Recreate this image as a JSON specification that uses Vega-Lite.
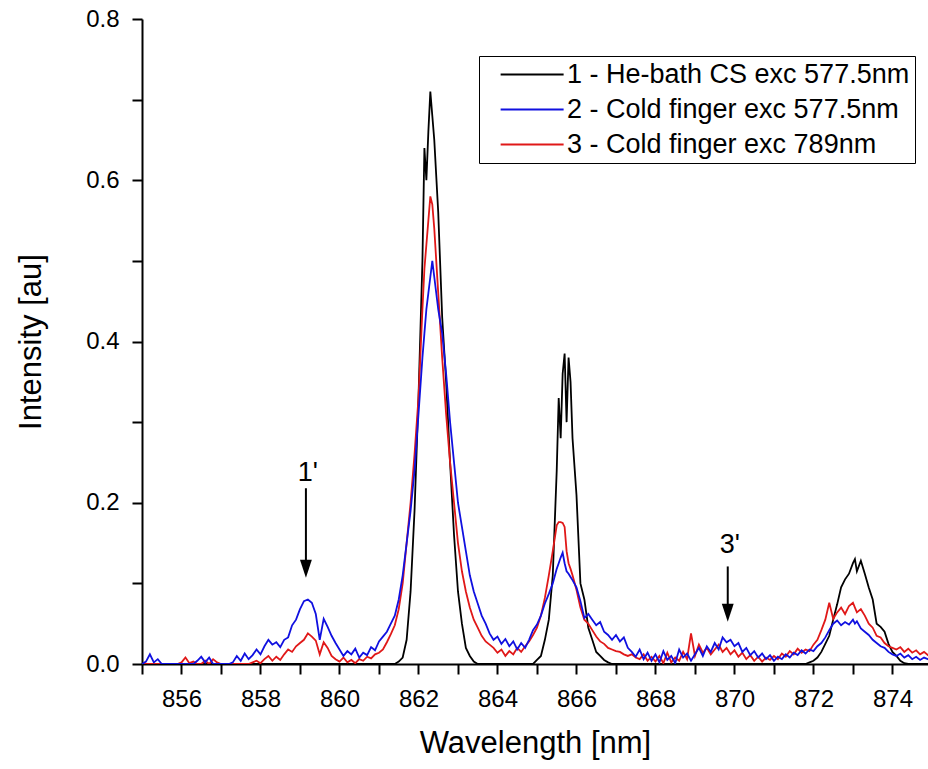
{
  "$schema": "https://vega.github.io/schema/vega-lite/v6.json",
  "width": 786,
  "height": 645,
  "autosize": {"type": "none"},
  "padding": {"left": 142, "top": 19, "right": 0, "bottom": 105},
  "background": "white",
  "config": {
    "view": {"stroke": null},
    "font": "Liberation Sans",
    "axis": {
      "domainColor": "black",
      "domainWidth": 2,
      "tickColor": "black",
      "tickWidth": 2,
      "labelColor": "black",
      "labelFont": "Liberation Sans",
      "labelFontSize": 24,
      "titleFont": "Liberation Sans",
      "titleFontSize": 31,
      "titleFontWeight": "normal",
      "titleColor": "black",
      "grid": false
    }
  },
  "datasets": {
    "spec": [
      {"x":855.0,"a":0,"b":0,"c":0},
      {"x":855.1,"a":0,"b":0.003,"c":0},
      {"x":855.2,"a":0,"b":0.012,"c":0},
      {"x":855.3,"a":0,"b":0.002,"c":0},
      {"x":855.4,"a":0,"b":0.006,"c":0},
      {"x":855.5,"a":0,"b":0,"c":0},
      {"x":855.6,"a":0,"b":0,"c":0},
      {"x":855.7,"a":0,"b":0,"c":0},
      {"x":855.8,"a":0,"b":0,"c":0},
      {"x":855.9,"a":0,"b":0,"c":0},
      {"x":856.0,"a":0,"b":0,"c":0.002},
      {"x":856.1,"a":0,"b":0,"c":0.008},
      {"x":856.2,"a":0,"b":0,"c":0.001},
      {"x":856.3,"a":0,"b":0,"c":0.003},
      {"x":856.4,"a":0,"b":0.004,"c":0},
      {"x":856.5,"a":0,"b":0.009,"c":0},
      {"x":856.6,"a":0,"b":0.002,"c":0.004},
      {"x":856.7,"a":0,"b":0.008,"c":0},
      {"x":856.8,"a":0,"b":0,"c":0.006},
      {"x":856.9,"a":0,"b":0,"c":0.002},
      {"x":857.0,"a":0,"b":0,"c":0},
      {"x":857.1,"a":0,"b":0,"c":0},
      {"x":857.2,"a":0,"b":0,"c":0},
      {"x":857.3,"a":0,"b":0.002,"c":0},
      {"x":857.4,"a":0,"b":0.010,"c":0},
      {"x":857.5,"a":0,"b":0.004,"c":0},
      {"x":857.6,"a":0,"b":0.013,"c":0},
      {"x":857.7,"a":0,"b":0.006,"c":0},
      {"x":857.8,"a":0,"b":0.011,"c":0.002},
      {"x":857.9,"a":0,"b":0.018,"c":0.004},
      {"x":858.0,"a":0,"b":0.012,"c":0.001},
      {"x":858.1,"a":0,"b":0.022,"c":0.006},
      {"x":858.2,"a":0,"b":0.030,"c":0.010},
      {"x":858.3,"a":0,"b":0.024,"c":0.004},
      {"x":858.4,"a":0,"b":0.027,"c":0.009},
      {"x":858.5,"a":0,"b":0.021,"c":0.005},
      {"x":858.6,"a":0,"b":0.030,"c":0.012},
      {"x":858.7,"a":0,"b":0.033,"c":0.018},
      {"x":858.8,"a":0,"b":0.048,"c":0.015},
      {"x":858.9,"a":0,"b":0.055,"c":0.022},
      {"x":859.0,"a":0,"b":0.068,"c":0.026},
      {"x":859.1,"a":0,"b":0.078,"c":0.030},
      {"x":859.2,"a":0,"b":0.080,"c":0.038},
      {"x":859.3,"a":0,"b":0.076,"c":0.034},
      {"x":859.4,"a":0,"b":0.062,"c":0.029},
      {"x":859.5,"a":0,"b":0.030,"c":0.012},
      {"x":859.6,"a":0,"b":0.056,"c":0.027},
      {"x":859.7,"a":0,"b":0.046,"c":0.020},
      {"x":859.8,"a":0,"b":0.035,"c":0.010},
      {"x":859.9,"a":0,"b":0.026,"c":0.006},
      {"x":860.0,"a":0,"b":0.018,"c":0.003},
      {"x":860.1,"a":0,"b":0.010,"c":0.008},
      {"x":860.2,"a":0,"b":0.016,"c":0.002},
      {"x":860.3,"a":0,"b":0.012,"c":0.005},
      {"x":860.4,"a":0,"b":0.019,"c":0.001},
      {"x":860.5,"a":0,"b":0.008,"c":0.006},
      {"x":860.6,"a":0,"b":0.014,"c":0.004},
      {"x":860.7,"a":0,"b":0.011,"c":0.009},
      {"x":860.8,"a":0,"b":0.021,"c":0.007},
      {"x":860.9,"a":0,"b":0.017,"c":0.012},
      {"x":861.0,"a":0,"b":0.028,"c":0.014},
      {"x":861.1,"a":0,"b":0.034,"c":0.018},
      {"x":861.2,"a":0,"b":0.040,"c":0.027},
      {"x":861.3,"a":0,"b":0.050,"c":0.037},
      {"x":861.4,"a":0,"b":0.060,"c":0.048},
      {"x":861.5,"a":0.003,"b":0.080,"c":0.068},
      {"x":861.6,"a":0.008,"b":0.110,"c":0.100},
      {"x":861.7,"a":0.030,"b":0.150,"c":0.150},
      {"x":861.8,"a":0.090,"b":0.190,"c":0.200},
      {"x":861.9,"a":0.190,"b":0.240,"c":0.260},
      {"x":862.0,"a":0.330,"b":0.310,"c":0.330},
      {"x":862.1,"a":0.500,"b":0.380,"c":0.440},
      {"x":862.15,"a":0.640,"b":0.410,"c":0.490},
      {"x":862.2,"a":0.600,"b":0.440,"c":0.520},
      {"x":862.25,"a":0.660,"b":0.460,"c":0.550},
      {"x":862.3,"a":0.710,"b":0.480,"c":0.580},
      {"x":862.35,"a":0.680,"b":0.500,"c":0.570},
      {"x":862.4,"a":0.650,"b":0.480,"c":0.540},
      {"x":862.5,"a":0.560,"b":0.440,"c":0.460},
      {"x":862.6,"a":0.430,"b":0.410,"c":0.380},
      {"x":862.7,"a":0.350,"b":0.360,"c":0.310},
      {"x":862.8,"a":0.250,"b":0.300,"c":0.250},
      {"x":862.9,"a":0.160,"b":0.250,"c":0.200},
      {"x":863.0,"a":0.090,"b":0.200,"c":0.150},
      {"x":863.1,"a":0.050,"b":0.170,"c":0.115},
      {"x":863.2,"a":0.020,"b":0.140,"c":0.090},
      {"x":863.3,"a":0.010,"b":0.110,"c":0.070},
      {"x":863.4,"a":0.003,"b":0.090,"c":0.055},
      {"x":863.5,"a":0,"b":0.075,"c":0.045},
      {"x":863.6,"a":0,"b":0.060,"c":0.035},
      {"x":863.7,"a":0,"b":0.050,"c":0.028},
      {"x":863.8,"a":0,"b":0.038,"c":0.024},
      {"x":863.9,"a":0,"b":0.030,"c":0.020},
      {"x":864.0,"a":0,"b":0.034,"c":0.014},
      {"x":864.1,"a":0,"b":0.025,"c":0.018},
      {"x":864.2,"a":0,"b":0.031,"c":0.010},
      {"x":864.3,"a":0,"b":0.022,"c":0.016},
      {"x":864.4,"a":0,"b":0.028,"c":0.012},
      {"x":864.5,"a":0,"b":0.018,"c":0.020},
      {"x":864.6,"a":0,"b":0.026,"c":0.015},
      {"x":864.7,"a":0,"b":0.020,"c":0.022},
      {"x":864.8,"a":0,"b":0.030,"c":0.028},
      {"x":864.9,"a":0,"b":0.042,"c":0.036},
      {"x":865.0,"a":0.005,"b":0.049,"c":0.045},
      {"x":865.1,"a":0.010,"b":0.060,"c":0.060},
      {"x":865.2,"a":0.030,"b":0.075,"c":0.082},
      {"x":865.3,"a":0.055,"b":0.087,"c":0.110},
      {"x":865.4,"a":0.110,"b":0.100,"c":0.140},
      {"x":865.5,"a":0.240,"b":0.118,"c":0.172},
      {"x":865.55,"a":0.330,"b":0.125,"c":0.176},
      {"x":865.6,"a":0.280,"b":0.132,"c":0.176},
      {"x":865.65,"a":0.360,"b":0.138,"c":0.175},
      {"x":865.7,"a":0.385,"b":0.125,"c":0.170},
      {"x":865.75,"a":0.300,"b":0.115,"c":0.140},
      {"x":865.8,"a":0.380,"b":0.112,"c":0.125},
      {"x":865.85,"a":0.350,"b":0.108,"c":0.118},
      {"x":865.9,"a":0.280,"b":0.104,"c":0.110},
      {"x":866.0,"a":0.210,"b":0.095,"c":0.092},
      {"x":866.1,"a":0.100,"b":0.078,"c":0.070},
      {"x":866.2,"a":0.080,"b":0.057,"c":0.055},
      {"x":866.3,"a":0.045,"b":0.062,"c":0.050},
      {"x":866.4,"a":0.030,"b":0.055,"c":0.042},
      {"x":866.5,"a":0.015,"b":0.048,"c":0.034},
      {"x":866.6,"a":0.010,"b":0.052,"c":0.028},
      {"x":866.7,"a":0.005,"b":0.040,"c":0.025},
      {"x":866.8,"a":0.002,"b":0.036,"c":0.020},
      {"x":866.9,"a":0,"b":0.030,"c":0.018},
      {"x":867.0,"a":0,"b":0.036,"c":0.016},
      {"x":867.1,"a":0,"b":0.028,"c":0.015},
      {"x":867.2,"a":0,"b":0.033,"c":0.012},
      {"x":867.3,"a":0,"b":0.020,"c":0.010},
      {"x":867.4,"a":0,"b":0.015,"c":0.012},
      {"x":867.5,"a":0,"b":0.009,"c":0.008},
      {"x":867.6,"a":0,"b":0.018,"c":0.006},
      {"x":867.7,"a":0,"b":0.006,"c":0.012},
      {"x":867.8,"a":0,"b":0.014,"c":0.004},
      {"x":867.9,"a":0,"b":0.004,"c":0.009},
      {"x":868.0,"a":0,"b":0.012,"c":0.003},
      {"x":868.1,"a":0,"b":0.002,"c":0.010},
      {"x":868.2,"a":0,"b":0.016,"c":0.001},
      {"x":868.3,"a":0,"b":0.005,"c":0.014},
      {"x":868.4,"a":0,"b":0.010,"c":0.002},
      {"x":868.5,"a":0,"b":0.001,"c":0.008},
      {"x":868.6,"a":0,"b":0.018,"c":0.004},
      {"x":868.7,"a":0,"b":0.008,"c":0.015},
      {"x":868.8,"a":0,"b":0.013,"c":0.006},
      {"x":868.9,"a":0,"b":0.004,"c":0.038},
      {"x":869.0,"a":0,"b":0.012,"c":0.010},
      {"x":869.1,"a":0,"b":0.020,"c":0.024},
      {"x":869.2,"a":0,"b":0.010,"c":0.014},
      {"x":869.3,"a":0,"b":0.022,"c":0.020},
      {"x":869.4,"a":0,"b":0.015,"c":0.012},
      {"x":869.5,"a":0,"b":0.026,"c":0.018},
      {"x":869.6,"a":0,"b":0.018,"c":0.024},
      {"x":869.7,"a":0,"b":0.033,"c":0.015},
      {"x":869.8,"a":0,"b":0.027,"c":0.020},
      {"x":869.9,"a":0,"b":0.030,"c":0.012},
      {"x":870.0,"a":0,"b":0.022,"c":0.017},
      {"x":870.1,"a":0,"b":0.026,"c":0.009},
      {"x":870.2,"a":0,"b":0.015,"c":0.014},
      {"x":870.3,"a":0,"b":0.020,"c":0.006},
      {"x":870.4,"a":0,"b":0.011,"c":0.011},
      {"x":870.5,"a":0,"b":0.016,"c":0.004},
      {"x":870.6,"a":0,"b":0.008,"c":0.009},
      {"x":870.7,"a":0,"b":0.013,"c":0.003},
      {"x":870.8,"a":0,"b":0.006,"c":0.008},
      {"x":870.9,"a":0,"b":0.011,"c":0.005},
      {"x":871.0,"a":0,"b":0.004,"c":0.010},
      {"x":871.1,"a":0,"b":0.009,"c":0.006},
      {"x":871.2,"a":0,"b":0.006,"c":0.013},
      {"x":871.3,"a":0,"b":0.012,"c":0.009},
      {"x":871.4,"a":0,"b":0.008,"c":0.016},
      {"x":871.5,"a":0,"b":0.014,"c":0.012},
      {"x":871.6,"a":0,"b":0.011,"c":0.019},
      {"x":871.7,"a":0,"b":0.017,"c":0.014},
      {"x":871.8,"a":0,"b":0.013,"c":0.018},
      {"x":871.9,"a":0.002,"b":0.018,"c":0.016},
      {"x":872.0,"a":0.004,"b":0.016,"c":0.024},
      {"x":872.1,"a":0.008,"b":0.022,"c":0.030},
      {"x":872.2,"a":0.015,"b":0.026,"c":0.042},
      {"x":872.3,"a":0.025,"b":0.033,"c":0.055},
      {"x":872.4,"a":0.035,"b":0.042,"c":0.076},
      {"x":872.5,"a":0.055,"b":0.050,"c":0.056},
      {"x":872.6,"a":0.074,"b":0.054,"c":0.064},
      {"x":872.7,"a":0.095,"b":0.048,"c":0.070},
      {"x":872.8,"a":0.105,"b":0.052,"c":0.062},
      {"x":872.9,"a":0.112,"b":0.049,"c":0.072},
      {"x":873.0,"a":0.125,"b":0.055,"c":0.076},
      {"x":873.05,"a":0.130,"b":0.050,"c":0.070},
      {"x":873.1,"a":0.115,"b":0.053,"c":0.064},
      {"x":873.2,"a":0.128,"b":0.044,"c":0.068},
      {"x":873.3,"a":0.112,"b":0.040,"c":0.060},
      {"x":873.4,"a":0.095,"b":0.036,"c":0.050},
      {"x":873.5,"a":0.080,"b":0.030,"c":0.045},
      {"x":873.6,"a":0.050,"b":0.026,"c":0.035},
      {"x":873.7,"a":0.046,"b":0.022,"c":0.033},
      {"x":873.8,"a":0.040,"b":0.020,"c":0.026},
      {"x":873.9,"a":0.025,"b":0.015,"c":0.022},
      {"x":874.0,"a":0.015,"b":0.012,"c":0.020},
      {"x":874.1,"a":0.010,"b":0.010,"c":0.018},
      {"x":874.2,"a":0.004,"b":0.013,"c":0.021},
      {"x":874.3,"a":0.001,"b":0.008,"c":0.015},
      {"x":874.4,"a":0,"b":0.011,"c":0.019},
      {"x":874.5,"a":0,"b":0.006,"c":0.014},
      {"x":874.6,"a":0,"b":0.009,"c":0.017},
      {"x":874.7,"a":0,"b":0.005,"c":0.012},
      {"x":874.8,"a":0,"b":0.008,"c":0.015},
      {"x":874.9,"a":0,"b":0.006,"c":0.011},
      {"x":875.0,"a":0,"b":0.004,"c":0.013}
    ],
    "arrows": [
      {"x": 859.15, "label": "1'", "ytext": 0.237, "ytop": 0.218, "ybot": 0.12, "tip": 0.107},
      {"x": 869.83, "label": "3'", "ytext": 0.148, "ytop": 0.121, "ybot": 0.065, "tip": 0.0525}
    ]
  },
  "layer": [
    {
      "data": {"name": "spec"},
      "transform": [{"fold": ["a", "b", "c"], "as": ["key", "value"]}, {"filter": "datum.key == 'a'"}],
      "mark": {"type": "line", "strokeWidth": 1.8, "clip": true},
      "encoding": {
        "x": {"field": "x", "type": "quantitative",
          "scale": {"domain": [855, 874.9], "nice": false, "zero": false},
          "axis": {
            "title": "Wavelength [nm]",
            "values": [855,856,857,858,859,860,861,862,863,864,865,866,867,868,869,870,871,872,873,874],
            "labelExpr": "datum.value % 2 == 0 ? format(datum.value, 'd') : ''",
            "tickSize": 10,
            "labelPadding": 13,
            "labelFlush": false,
            "titlePadding": 17
          }
        },
        "y": {"field": "value", "type": "quantitative",
          "scale": {"domain": [0, 0.8], "nice": false},
          "axis": {
            "title": "Intensity [au]",
            "values": [0,0.1,0.2,0.3,0.4,0.5,0.6,0.7,0.8],
            "labelExpr": "round(datum.value*10) % 2 == 0 ? format(datum.value, '.1f') : ''",
            "tickSize": 10,
            "labelPadding": 13,
            "labelFlush": false,
            "titlePadding": 38
          }
        },
        "color": {"field": "key", "type": "nominal",
          "scale": {"domain": ["a", "b", "c"], "range": ["#000000", "#1010e0", "#e01818"]},
          "legend": {
            "title": null,
            "orient": "none",
            "legendX": 337,
            "legendY": 37,
            "direction": "vertical",
            "strokeColor": "black",
            "fillColor": "white",
            "padding": 5,
            "symbolType": "M-1,0L7,0",
            "symbolSize": 248,
            "symbolStrokeWidth": 2,
            "symbolOffset": 11,
            "labelFontSize": 27,
            "labelFont": "Liberation Sans",
            "labelColor": "black",
            "labelLimit": 600,
            "labelOffset": 45,
            "rowPadding": 7,
            "labelExpr": "datum.value == 'a' ? '1 - He-bath CS exc 577.5nm' : datum.value == 'b' ? '2 - Cold finger exc 577.5nm' : '3 - Cold finger exc 789nm'"
          }
        }
      }
    },
    {
      "data": {"name": "spec"},
      "transform": [{"fold": ["a", "b", "c"], "as": ["key", "value"]}, {"filter": "datum.key == 'c'"}],
      "mark": {"type": "line", "strokeWidth": 1.8, "clip": true},
      "encoding": {
        "x": {"field": "x", "type": "quantitative"},
        "y": {"field": "value", "type": "quantitative"},
        "color": {"field": "key", "type": "nominal"}
      }
    },
    {
      "data": {"name": "spec"},
      "transform": [{"fold": ["a", "b", "c"], "as": ["key", "value"]}, {"filter": "datum.key == 'b'"}],
      "mark": {"type": "line", "strokeWidth": 1.8, "clip": true},
      "encoding": {
        "x": {"field": "x", "type": "quantitative"},
        "y": {"field": "value", "type": "quantitative"},
        "color": {"field": "key", "type": "nominal"}
      }
    },
    {
      "data": {"name": "arrows"},
      "mark": {"type": "rule", "color": "black", "strokeWidth": 2},
      "encoding": {
        "x": {"field": "x", "type": "quantitative"},
        "y": {"field": "ytop", "type": "quantitative"},
        "y2": {"field": "ybot"}
      }
    },
    {
      "data": {"name": "arrows"},
      "mark": {"type": "point", "shape": "M-0.33,-1L0.33,-1L0,0Z", "filled": true, "color": "black", "size": 1296, "opacity": 1},
      "encoding": {
        "x": {"field": "x", "type": "quantitative"},
        "y": {"field": "tip", "type": "quantitative"}
      }
    },
    {
      "data": {"name": "arrows"},
      "mark": {"type": "text", "fontSize": 27, "font": "Liberation Sans", "color": "black", "baseline": "middle", "align": "center", "dx": 2},
      "encoding": {
        "x": {"field": "x", "type": "quantitative"},
        "y": {"field": "ytext", "type": "quantitative"},
        "text": {"field": "label"}
      }
    }
  ]
}
